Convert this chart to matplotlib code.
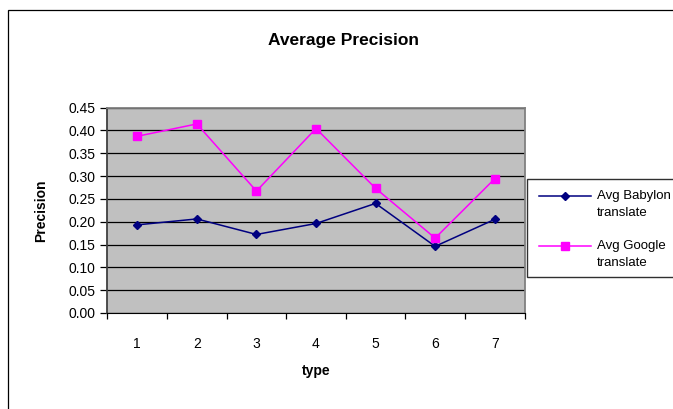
import numpy as np
import matplotlib
matplotlib.use("Agg")
import matplotlib.pyplot as plt
from matplotlib.patches import Rectangle
from matplotlib.lines import Line2D

plt.rcParams['font.family'] = ['Liberation Sans', 'DejaVu Sans']

# data
types = ["1", "2", "3", "4", "5", "6", "7"]
babylon = [0.193, 0.206, 0.172, 0.196, 0.240, 0.146, 0.205]
google = [0.387, 0.414, 0.267, 0.404, 0.273, 0.164, 0.294]
yticks = [0.00, 0.05, 0.10, 0.15, 0.20, 0.25, 0.30, 0.35, 0.40, 0.45]
series_names = ["Avg Babylon", "Avg Google"]

fig = plt.figure(figsize=(6.73, 4.09), dpi=100)
W, H = 673, 409

# outer chart frame
fig.patches.append(Rectangle((8 / W, -0.1), 1.1, 1 - 10 / H + 0.1,
                             transform=fig.transFigure, fill=False,
                             edgecolor='black', linewidth=0.9))

ax = fig.add_axes([107.5 / W, 1 - 313 / H, (524.5 - 107.5) / W, (313 - 107.5) / H])
ax.set_facecolor('#C0C0C0')

x = np.arange(len(types)) + 0.5
styles = [dict(color='#000080', marker='D', markersize=4.5),
          dict(color='#FF00FF', marker='s', markersize=6)]
for vals, st in zip([babylon, google], styles):
    ax.plot(x, vals, linewidth=1.1, zorder=3, **st)

ax.set_xlim(0, len(types))
ax.set_ylim(0, 0.45)
ax.set_yticks(yticks)
ax.set_yticklabels([f"{v:.2f}" for v in yticks], fontsize=10)
ax.set_xticks(np.arange(len(types) + 1))
ax.set_xticklabels([])
ax.set_xticks(x, minor=True)
ax.set_xticklabels(types, minor=True, fontsize=10)
ax.tick_params(axis='x', which='minor', length=0, pad=17)
ax.tick_params(axis='x', which='major', direction='out', length=4, width=0.9,
               color='black')
ax.tick_params(axis='y', direction='out', length=5, width=0.9, color='black')
ax.yaxis.grid(True, color='black', linewidth=0.9)
ax.set_axisbelow(True)

for side in ['top', 'right']:
    ax.spines[side].set_color('#808080')
    ax.spines[side].set_linewidth(1.3)
ax.spines['left'].set_color('#404040')
ax.spines['left'].set_linewidth(1.3)
ax.spines['bottom'].set_color('black')

ax.set_xlabel('type', fontsize=10, fontweight='bold', labelpad=10)
ax.set_ylabel('Precision', fontsize=10, fontweight='bold', labelpad=15)
fig.text(343 / W, 1 - 40 / H, 'Average Precision', fontsize=12.5,
         fontweight='bold', ha='center', va='center')

# legend box (runs off the right edge like the original)
fig.patches.append(Rectangle((527 / W, 1 - 277 / H), 0.5, 98 / H,
                             transform=fig.transFigure, facecolor='white',
                             edgecolor='#303030', linewidth=1.0))
for i, (name, st) in enumerate(zip(series_names, styles)):
    yy = 1 - (196 + 50 * i) / H
    fig.add_artist(Line2D([539 / W, 591 / W], [yy, yy], transform=fig.transFigure,
                          linewidth=1.1, color=st['color']))
    fig.add_artist(Line2D([565 / W], [yy], transform=fig.transFigure,
                          linestyle='none', **st))
    fig.text(597 / W, yy, name, fontsize=9.5, va='center', ha='left')
    fig.text(597 / W, yy - 16.5 / H, 'translate', fontsize=9.5, va='center', ha='left')

fig.savefig('out.png', dpi=100)
